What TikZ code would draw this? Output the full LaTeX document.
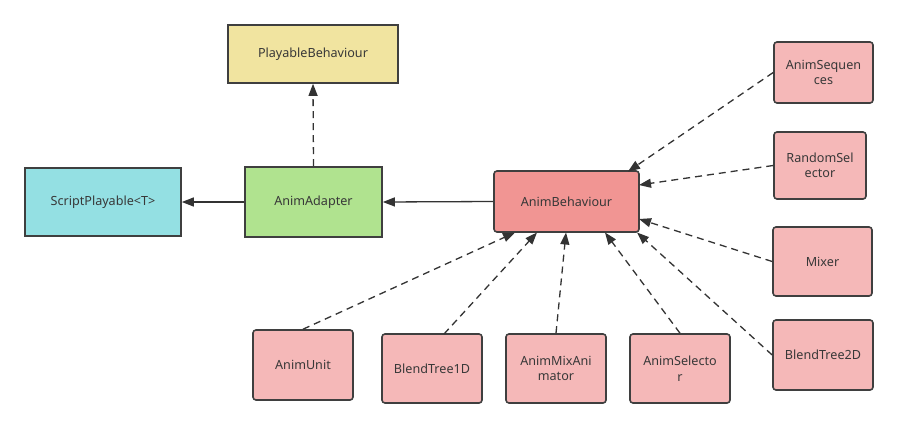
\documentclass[tikz,border=0pt]{standalone}
\usepackage{fontspec}
\setmainfont{Noto Sans}
\usetikzlibrary{arrows.meta}
\definecolor{bordc}{HTML}{3F3F3F}
\definecolor{linec}{HTML}{333333}
\definecolor{txtc}{HTML}{383838}
\definecolor{yel}{HTML}{F1E4A0}
\definecolor{cyan1}{HTML}{94E0E3}
\definecolor{grn}{HTML}{B0E38F}
\definecolor{red1}{HTML}{F19593}
\definecolor{pink1}{HTML}{F5B8B8}
\tikzset{
  box/.style={draw=bordc, line width=1.6pt, text=txtc, align=center, inner sep=2pt,
    font=\fontsize{12.6}{15.5}\selectfont, anchor=center},
  sqbox/.style={box},
  rbox/.style={box, rounded corners=3pt},
  tip/.style={-{Triangle[length=12pt,width=9pt]}},
  dep/.style={tip, draw=linec, line width=1.3pt, dash pattern=on 7pt off 5pt},
  assoc/.style={tip, draw=linec, line width=1.3pt},
}
\begin{document}
\begin{tikzpicture}[x=1pt,y=-1pt]
\useasboundingbox (0,0) rectangle (898,429);
\fill[white] (0,0) rectangle (898,429);
% top-level nodes
\node[sqbox, fill=yel, minimum width=170pt, minimum height=58pt] (pb) at (313,54) {PlayableBehaviour};
\node[sqbox, fill=cyan1, minimum width=156pt, minimum height=68pt] (sp) at (103,202) {ScriptPlayable<T>};
\node[sqbox, fill=grn, minimum width=137pt, minimum height=70pt] (aa) at (313.5,202) {AnimAdapter};
\node[rbox, fill=red1, minimum width=145pt, minimum height=61pt] (ab) at (566.5,201.5) {AnimBehaviour};
% right column
\node[rbox, fill=pink1, minimum width=99pt, minimum height=61pt] (aseq) at (823.5,72.5) {AnimSequen\\ces};
\node[rbox, fill=pink1, minimum width=92pt, minimum height=67pt] (rs) at (820,165.5) {RandomSel\\ector};
\node[rbox, fill=pink1, minimum width=99pt, minimum height=69pt] (mx) at (822.5,261.5) {Mixer};
\node[rbox, fill=pink1, minimum width=100pt, minimum height=70pt] (bt2) at (823,355) {BlendTree2D};
% bottom row
\node[rbox, fill=pink1, minimum width=100pt, minimum height=70pt] (au) at (303,365) {AnimUnit};
\node[rbox, fill=pink1, minimum width=100pt, minimum height=69pt] (bt1) at (432,368.5) {BlendTree1D};
\node[rbox, fill=pink1, minimum width=100pt, minimum height=69pt] (ama) at (556,368.5) {AnimMixAni\\mator};
\node[rbox, fill=pink1, minimum width=100pt, minimum height=69pt] (asel) at (680,368.5) {AnimSelecto\\r};
% target points on AnimBehaviour
\coordinate (t1) at (628,171.5);
\coordinate (t2) at (639,185);
\coordinate (t3) at (639,219);
\coordinate (t4) at (637,232.5);
\coordinate (t5) at (605,232.5);
\coordinate (t6) at (566,232.5);
\coordinate (t7) at (537,232.5);
\coordinate (t8) at (515,232.5);
\coordinate (s1) at (444,334);
% connectors
\draw[dep] (aa.north) -- (pb.south);
\draw[assoc] (aa.west) -- (sp.east);
\draw[assoc] (ab.west) -- (aa.east);
\draw[dep] (aseq.west) -- (t1);
\draw[dep] (rs.west) -- (t2);
\draw[dep] (mx.west) -- (t3);
\draw[dep] (bt2.west) -- (t4);
\draw[dep] (asel.north) -- (t5);
\draw[dep] (ama.north) -- (t6);
\draw[dep] (s1) -- (t7);
\draw[dep] (au.north) -- (t8);
\end{tikzpicture}
\end{document}
